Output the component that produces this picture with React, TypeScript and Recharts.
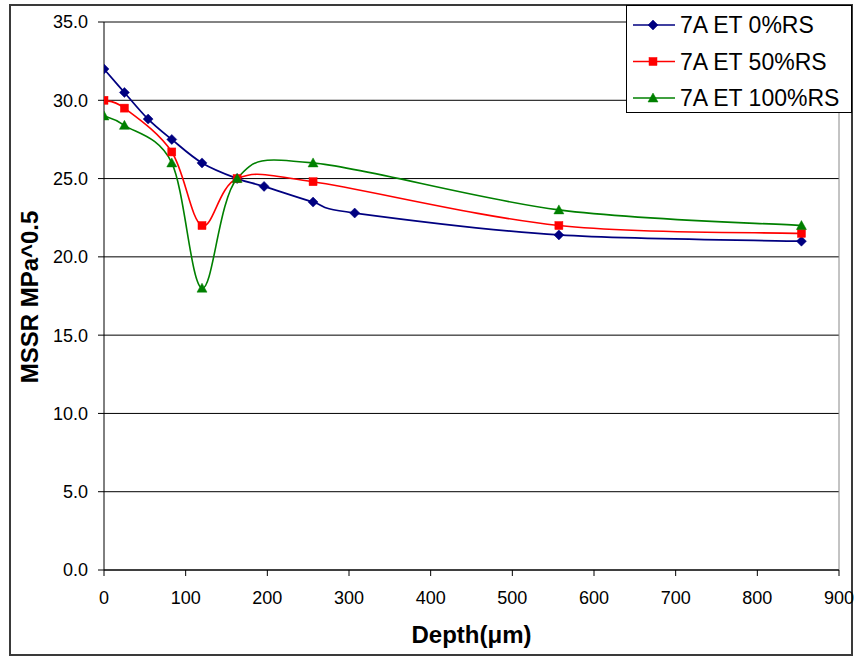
import React from 'react';
import { LineChart, Line, XAxis, YAxis, CartesianGrid, Legend, ReferenceLine, Label } from 'recharts';

// ---- data ----
const depth0 = [0, 25, 54, 83, 120, 163, 196, 256, 307, 557, 854];
const mssr0 = [32.0, 30.5, 28.8, 27.5, 26.0, 25.0, 24.5, 23.5, 22.8, 21.4, 21.0];
const depth50 = [0, 25, 83, 120, 163, 256, 557, 854];
const mssr50 = [30.0, 29.5, 26.7, 22.0, 25.0, 24.8, 22.0, 21.5];
const depth100 = [0, 25, 83, 120, 163, 256, 557, 854];
const mssr100 = [29.0, 28.4, 26.0, 18.0, 25.0, 26.0, 23.0, 22.0];
const seriesNames = ['7A ET 0%RS', '7A ET 50%RS', '7A ET 100%RS'];
const xTicks = [0, 100, 200, 300, 400, 500, 600, 700, 800, 900];
const yTicks = [0, 5, 10, 15, 20, 25, 30, 35];
const xTitle = 'Depth(\u03bcm)';
const yTitle = 'MSSR MPa^0.5';

// ---- styles ----
const seriesColors = ['#000080', '#FF0000', '#008000'];
const seriesShapes = ['diamond', 'square', 'triangle'];
const FONT = "'Liberation Sans', Arial, sans-serif";

const zip = (xs: number[], ys: number[]) => xs.map((x, i) => ({ x, y: ys[i] }));
const data0 = zip(depth0, mssr0);
const data50 = zip(depth50, mssr50);
const data100 = zip(depth100, mssr100);

// Excel-like smoothed line (Catmull-Rom Bezier)
function excelCurve(context: any) {
  let pts: number[][] = [];
  return {
    areaStart() {},
    areaEnd() {},
    lineStart() { pts = []; },
    point(x: number, y: number) { pts.push([+x, +y]); },
    lineEnd() {
      const n = pts.length;
      if (!n) return;
      context.moveTo(pts[0][0], pts[0][1]);
      if (n === 2) { context.lineTo(pts[1][0], pts[1][1]); return; }
      for (let i = 0; i < n - 1; i++) {
        const p0 = pts[Math.max(i - 1, 0)];
        const p1 = pts[i];
        const p2 = pts[i + 1];
        const p3 = pts[Math.min(i + 2, n - 1)];
        context.bezierCurveTo(
          p1[0] + (p2[0] - p0[0]) / 6, p1[1] + (p2[1] - p0[1]) / 6,
          p2[0] - (p3[0] - p1[0]) / 6, p2[1] - (p3[1] - p1[1]) / 6,
          p2[0], p2[1]
        );
      }
    },
  };
}

function Marker({ shape, cx, cy, color }: { shape: string; cx: number; cy: number; color: string }) {
  if (cx == null || cy == null || isNaN(cx) || isNaN(cy)) return null;
  if (shape === 'diamond') {
    return <polygon points={`${cx},${cy - 5} ${cx + 5},${cy} ${cx},${cy + 5} ${cx - 5},${cy}`} fill={color} stroke={color} strokeWidth={0.5} />;
  }
  if (shape === 'square') {
    return <rect x={cx - 4} y={cy - 4} width={8} height={8} fill={color} stroke={color} strokeWidth={0.5} />;
  }
  return <polygon points={`${cx},${cy - 5} ${cx + 5},${cy + 4} ${cx - 5},${cy + 4}`} fill={color} stroke={color} strokeWidth={0.5} />;
}

const makeDot = (idx: number) => (p: any) => (
  <Marker key={`dot-${idx}-${p.index}`} shape={seriesShapes[idx]} cx={p.cx} cy={p.cy} color={seriesColors[idx]} />
);

function LegendBox(props: any) {
  const payload = [...(props.payload || [])].sort(
    (a: any, b: any) => seriesNames.indexOf(a.value) - seriesNames.indexOf(b.value)
  );
  return (
    <svg width={226} height={108} style={{ display: 'block' }}>
      <rect x={0.5} y={0.5} width={225} height={107} fill="#fff" stroke="#000" strokeWidth={1} />
      {payload.map((entry: any, i: number) => {
        const idx = Math.max(0, seriesNames.indexOf(entry.value));
        const cy = 20 + i * 36.5;
        return (
          <g key={entry.value}>
            <line x1={7} x2={49} y1={cy} y2={cy} stroke={seriesColors[idx]} strokeWidth={1.5} />
            <Marker shape={seriesShapes[idx]} cx={27} cy={cy} color={seriesColors[idx]} />
            <text x={54} y={cy + 8.3} fontSize={23} fontFamily={FONT} fill="#000">{entry.value}</text>
          </g>
        );
      })}
    </svg>
  );
}

const XTitle = (props: any) => {
  const vb = props.viewBox || { x: 104, y: 570, width: 735, height: 86 };
  return (
    <text x={vb.x + vb.width / 2} y={vb.y + 73} textAnchor="middle" fontSize={24} fontWeight="bold" fontFamily={FONT} fill="#000">
      {xTitle}
    </text>
  );
};

const YTitle = (props: any) => {
  const vb = props.viewBox || { x: 0, y: 22, width: 104, height: 548 };
  const x = vb.x + 38;
  const y = vb.y + vb.height / 2 + 1;
  return (
    <text x={x} y={y} transform={`rotate(-90, ${x}, ${y})`} textAnchor="middle" fontSize={24} fontWeight="bold" fontFamily={FONT} fill="#000">
      {yTitle}
    </text>
  );
};

export default function App() {
  return (
    <div style={{ position: 'absolute', left: 0, top: 0, width: 857, height: 656, background: '#fff' }}>
      <div style={{ position: 'absolute', left: 9, top: 4, width: 844, height: 652, border: '2px solid #3a3a3a', boxSizing: 'border-box' }} />
      <div style={{ position: 'absolute', left: 0, top: 0 }}>
        <LineChart width={857} height={656} margin={{ top: 22, right: 18, left: 0, bottom: 0 }}>
          <CartesianGrid vertical={false} stroke="#000" strokeWidth={1} />
          <XAxis
            type="number"
            dataKey="x"
            domain={[0, 900]}
            ticks={xTicks}
            height={86}
            tickSize={6}
            tickMargin={15}
            tick={{ fontSize: 18, fill: '#000', fontFamily: FONT }}
            axisLine={{ stroke: '#000', strokeWidth: 1 }}
            tickLine={{ stroke: '#000', strokeWidth: 1 }}
            allowDataOverflow
          >
            <Label content={XTitle} />
          </XAxis>
          <YAxis
            type="number"
            domain={[0, 35]}
            ticks={yTicks}
            width={104}
            tickSize={6}
            tickMargin={10}
            tickFormatter={(v: number) => v.toFixed(1)}
            tick={{ fontSize: 18, fill: '#000', fontFamily: FONT }}
            axisLine={{ stroke: '#000', strokeWidth: 1 }}
            tickLine={{ stroke: '#000', strokeWidth: 1 }}
            allowDataOverflow
          >
            <Label content={YTitle} />
          </YAxis>
          <ReferenceLine x={900} stroke="#888" strokeWidth={1} />
          <ReferenceLine y={35} stroke="#888" strokeWidth={1} />
          <Line data={data0} dataKey="y" name={seriesNames[0]} type={excelCurve as any} stroke={seriesColors[0]} strokeWidth={1.75} dot={makeDot(0)} activeDot={false} isAnimationActive={false} />
          <Line data={data50} dataKey="y" name={seriesNames[1]} type={excelCurve as any} stroke={seriesColors[1]} strokeWidth={1.6} dot={makeDot(1)} activeDot={false} isAnimationActive={false} />
          <Line data={data100} dataKey="y" name={seriesNames[2]} type={excelCurve as any} stroke={seriesColors[2]} strokeWidth={1.6} dot={makeDot(2)} activeDot={false} isAnimationActive={false} />
          <Legend
            layout="horizontal"
            verticalAlign="middle"
            align="center"
            content={LegendBox}
            wrapperStyle={{ left: 626, top: 5, width: 226, height: 108 }}
          />
        </LineChart>
      </div>
    </div>
  );
}
